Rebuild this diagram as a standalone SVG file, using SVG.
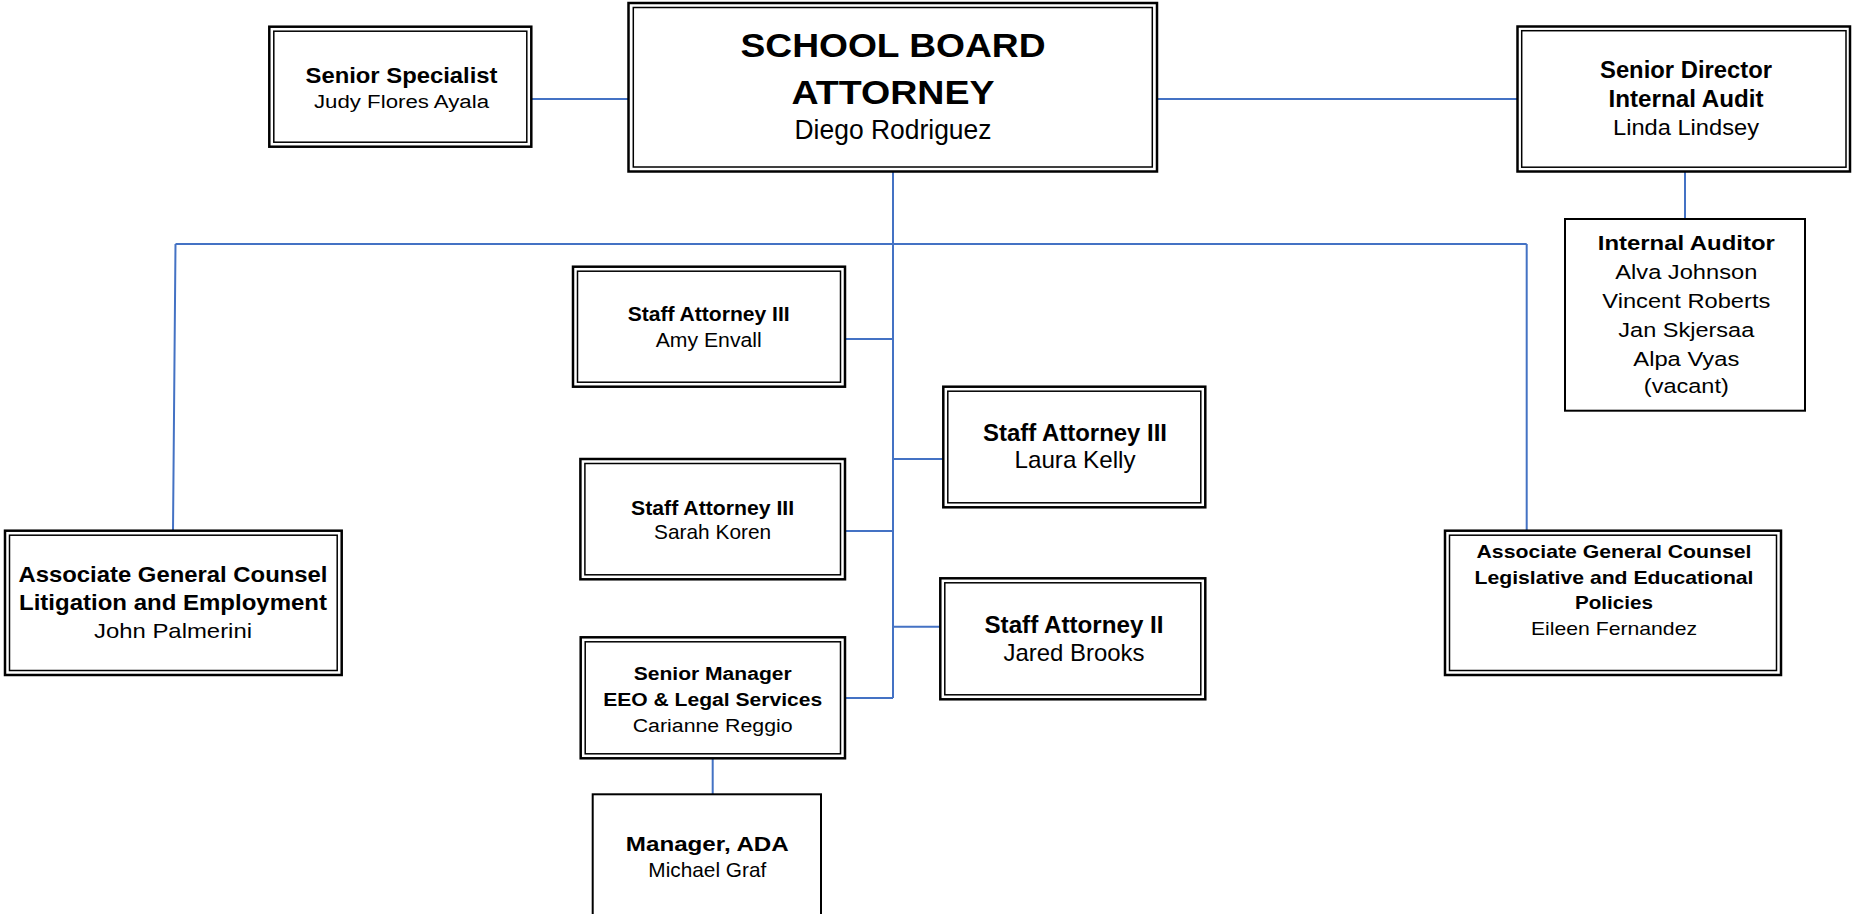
<svg xmlns="http://www.w3.org/2000/svg" width="1852" height="914" viewBox="0 0 1852 914">
<style>
.o{fill:#fff;stroke:#000;stroke-width:2.5}
.i{fill:none;stroke:#000;stroke-width:1.5}
.s{fill:#fff;stroke:#000;stroke-width:2}
.c{fill:none;stroke:#4472C4;stroke-width:2}
text{font-family:"Liberation Sans",Arial,sans-serif;text-anchor:middle;fill:#000}
.b{font-weight:bold}
</style>
<rect width="1852" height="914" fill="#fff"/>
<g id="connectors">
<path class="c" d="M531 99H628.5M1157 99H1517.5M1685 171.5V219M893 171.5V698M175.5 244H1526.7M175.5 244L173 530.7M1526.7 244V530.7M845 339H893M893 459H943.3M845 531H893M893 626.7H940.3M845 698H893M712.7 758.3V794.3"/>
</g>
<g id="senior-specialist">
<rect class="o" x="269.3" y="26.7" width="262" height="120"/>
<rect class="i" x="273.8" y="31.2" width="253" height="111"/>
<text class="b" x="401.5" y="82.5" font-size="22" textLength="192" lengthAdjust="spacingAndGlyphs">Senior Specialist</text>
<text x="401.5" y="107.5" font-size="18" textLength="175" lengthAdjust="spacingAndGlyphs">Judy Flores Ayala</text>
</g>
<g id="school-board-attorney">
<rect class="o" x="628.5" y="3" width="528.5" height="168.5"/>
<rect class="i" x="633.3" y="7.5" width="519" height="159.5"/>
<text class="b" x="893" y="57.3" font-size="34" textLength="305" lengthAdjust="spacingAndGlyphs">SCHOOL BOARD</text>
<text class="b" x="893" y="104" font-size="34" textLength="203" lengthAdjust="spacingAndGlyphs">ATTORNEY</text>
<text x="893" y="139.3" font-size="27" textLength="197" lengthAdjust="spacingAndGlyphs">Diego Rodriguez</text>
</g>
<g id="senior-director">
<rect class="o" x="1517.5" y="26.5" width="332.5" height="145"/>
<rect class="i" x="1521.7" y="30.7" width="324.3" height="136.5"/>
<text class="b" x="1686" y="78.3" font-size="23.5" textLength="172" lengthAdjust="spacingAndGlyphs">Senior Director</text>
<text class="b" x="1686" y="106.7" font-size="23.5" textLength="155" lengthAdjust="spacingAndGlyphs">Internal Audit</text>
<text x="1686" y="135" font-size="22" textLength="146" lengthAdjust="spacingAndGlyphs">Linda Lindsey</text>
</g>
<g id="internal-auditor">
<rect class="s" x="1565" y="219" width="240" height="191.7"/>
<text class="b" x="1686.3" y="250" font-size="21" textLength="177" lengthAdjust="spacingAndGlyphs">Internal Auditor</text>
<text x="1686.3" y="279.3" font-size="20.5" textLength="142" lengthAdjust="spacingAndGlyphs">Alva Johnson</text>
<text x="1686.3" y="308.3" font-size="20.5" textLength="168" lengthAdjust="spacingAndGlyphs">Vincent Roberts</text>
<text x="1686.3" y="336.7" font-size="20.5" textLength="136" lengthAdjust="spacingAndGlyphs">Jan Skjersaa</text>
<text x="1686.3" y="365.7" font-size="20.5" textLength="106" lengthAdjust="spacingAndGlyphs">Alpa Vyas</text>
<text x="1686.3" y="393.3" font-size="20.5" textLength="85" lengthAdjust="spacingAndGlyphs">(vacant)</text>
</g>
<g id="agc-litigation">
<rect class="o" x="5" y="530.7" width="336.7" height="144.3"/>
<rect class="i" x="9.5" y="535.2" width="327.7" height="135.3"/>
<text class="b" x="173" y="581.7" font-size="22" textLength="309" lengthAdjust="spacingAndGlyphs">Associate General Counsel</text>
<text class="b" x="173" y="610" font-size="22" textLength="308" lengthAdjust="spacingAndGlyphs">Litigation and Employment</text>
<text x="173" y="638.3" font-size="21" textLength="158" lengthAdjust="spacingAndGlyphs">John Palmerini</text>
</g>
<g id="agc-legislative">
<rect class="o" x="1445" y="530.7" width="336" height="144.3"/>
<rect class="i" x="1449.5" y="535.2" width="327" height="135.3"/>
<text class="b" x="1614" y="558.3" font-size="18.5" textLength="275" lengthAdjust="spacingAndGlyphs">Associate General Counsel</text>
<text class="b" x="1614" y="584" font-size="18.5" textLength="279" lengthAdjust="spacingAndGlyphs">Legislative and Educational</text>
<text class="b" x="1614" y="609.3" font-size="18.5" textLength="78" lengthAdjust="spacingAndGlyphs">Policies</text>
<text x="1614" y="635" font-size="18.5" textLength="166" lengthAdjust="spacingAndGlyphs">Eileen Fernandez</text>
</g>
<g id="staff-amy">
<rect class="o" x="573" y="266.7" width="272" height="120"/>
<rect class="i" x="577.5" y="271.2" width="263" height="111"/>
<text class="b" x="708.7" y="321" font-size="21" textLength="162" lengthAdjust="spacingAndGlyphs">Staff Attorney III</text>
<text x="708.7" y="347.3" font-size="20.5" textLength="106" lengthAdjust="spacingAndGlyphs">Amy Envall</text>
</g>
<g id="staff-laura">
<rect class="o" x="943.3" y="386.7" width="262" height="120.6"/>
<rect class="i" x="947.8" y="391.2" width="253" height="111.6"/>
<text class="b" x="1075" y="441" font-size="24" textLength="184" lengthAdjust="spacingAndGlyphs">Staff Attorney III</text>
<text x="1075" y="468.3" font-size="24" textLength="121" lengthAdjust="spacingAndGlyphs">Laura Kelly</text>
</g>
<g id="staff-sarah">
<rect class="o" x="580.4" y="459" width="264.6" height="120.3"/>
<rect class="i" x="584.9" y="463.5" width="255.6" height="111.3"/>
<text class="b" x="712.6" y="515" font-size="21" textLength="163" lengthAdjust="spacingAndGlyphs">Staff Attorney III</text>
<text x="712.6" y="539.3" font-size="21" textLength="117" lengthAdjust="spacingAndGlyphs">Sarah Koren</text>
</g>
<g id="staff-jared">
<rect class="o" x="940.3" y="578.3" width="265" height="121"/>
<rect class="i" x="944.8" y="582.8" width="256" height="112"/>
<text class="b" x="1074" y="633.3" font-size="24" textLength="179" lengthAdjust="spacingAndGlyphs">Staff Attorney II</text>
<text x="1074" y="660.7" font-size="24" textLength="141" lengthAdjust="spacingAndGlyphs">Jared Brooks</text>
</g>
<g id="senior-manager-eeo">
<rect class="o" x="580.7" y="637.3" width="264.3" height="121"/>
<rect class="i" x="585.2" y="641.8" width="255.3" height="112"/>
<text class="b" x="712.7" y="680" font-size="18" textLength="158" lengthAdjust="spacingAndGlyphs">Senior Manager</text>
<text class="b" x="712.7" y="706" font-size="18" textLength="219" lengthAdjust="spacingAndGlyphs">EEO &amp; Legal Services</text>
<text x="712.7" y="731.7" font-size="18" textLength="160" lengthAdjust="spacingAndGlyphs">Carianne Reggio</text>
</g>
<g id="manager-ada">
<rect class="s" x="592.7" y="794.3" width="228.3" height="130"/>
<text class="b" x="707.3" y="851" font-size="21" textLength="163" lengthAdjust="spacingAndGlyphs">Manager, ADA</text>
<text x="707.3" y="876.7" font-size="21" textLength="118" lengthAdjust="spacingAndGlyphs">Michael Graf</text>
</g>
</svg>
